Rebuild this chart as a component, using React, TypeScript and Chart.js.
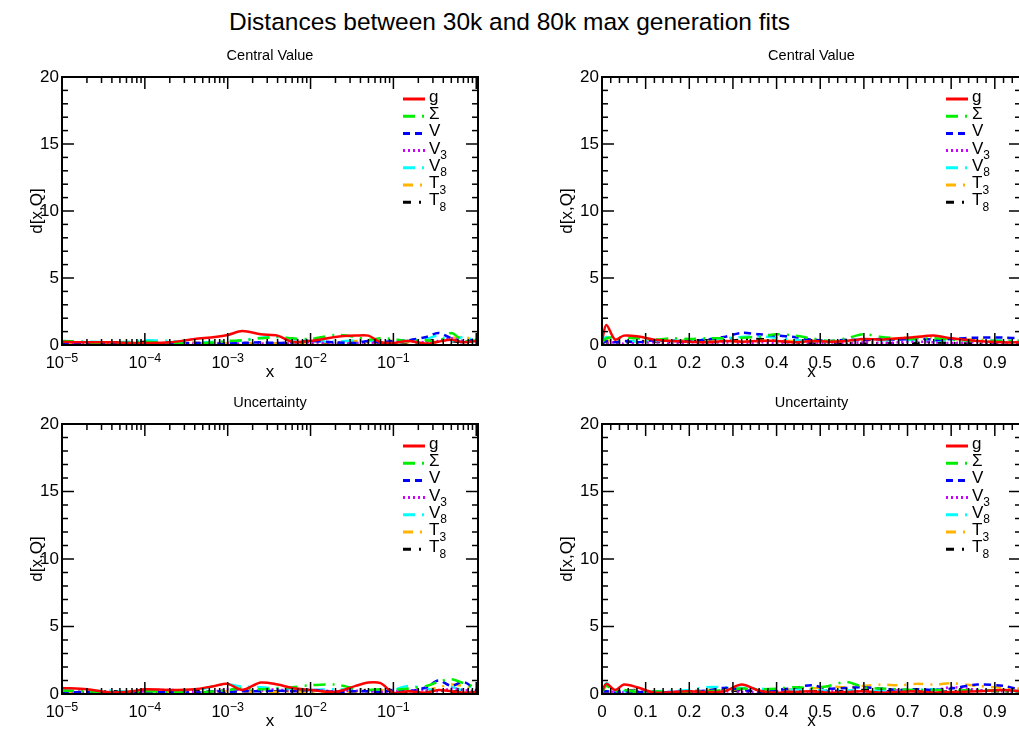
import React, { useEffect, useRef } from 'react';
import { Chart, registerables } from 'chart.js';
Chart.register(...registerables);

const FONT = '"Liberation Sans", Arial, Helvetica, sans-serif';

const TITLE = 'Distances between 30k and 80k max generation fits';
const SUBTITLES = ['Central Value', 'Central Value', 'Uncertainty', 'Uncertainty'];
const Y_TITLE = 'd[x,Q]';
const X_TITLE = 'x';

const SERIES_MAIN = ['g', 'Σ', 'V', 'V', 'V', 'T', 'T'];
const SERIES_SUB = ['', '', '', '3', '8', '3', '8'];
const SERIES_COLORS = ['#ff0000', '#00ee00', '#0000ff', '#cc00ff', '#00ffff', '#ffb400', '#000000'];
const SERIES_DASH = [[], [12, 7, 2, 7], [7, 5], [2, 3], [12, 7, 2, 7], [10, 7, 2, 7], [8, 8, 2, 8]];

const Y_TICK_LABELS = [0, 5, 10, 15, 20];
const LOG_DECADES = [-5, -4, -3, -2, -1];

const LOG_X = [1e-5, 2e-5, 4e-5, 7e-5, 1e-4, 2e-4, 4e-4, 7e-4, 1e-3, 1.5e-3, 2.5e-3, 4e-3, 6e-3, 1e-2, 2e-2, 3.5e-2, 5e-2, 7e-2, 0.1, 0.15, 0.25, 0.35, 0.5, 0.7, 1.0];
const LIN_X = [0, 0.01, 0.03, 0.05, 0.08, 0.12, 0.16, 0.2, 0.24, 0.28, 0.32, 0.36, 0.4, 0.44, 0.48, 0.52, 0.56, 0.6, 0.64, 0.68, 0.72, 0.76, 0.8, 0.86, 0.92, 0.96];

// Central value, log x
const CV_LOG_G = [0.25, 0.2, 0.2, 0.15, 0.15, 0.2, 0.45, 0.6, 0.75, 1.05, 0.8, 0.7, 0.25, 0.3, 0.6, 0.7, 0.7, 0.2, 0.15, 0.3, 0.1, 0.25, 0.4, 0.2, 0.3];
const CV_LOG_S = [0.3, 0.2, 0.1, 0.2, 0.25, 0.15, 0.1, 0.2, 0.3, 0.35, 0.5, 0.6, 0.5, 0.45, 0.75, 0.6, 0.4, 0.5, 0.45, 0.3, 0.35, 0.2, 0.9, 0.3, 0.4];
const CV_LOG_V = [0.1, 0.15, 0.1, 0.1, 0.15, 0.1, 0.15, 0.1, 0.1, 0.15, 0.2, 0.15, 0.2, 0.3, 0.2, 0.15, 0.3, 0.2, 0.3, 0.35, 0.6, 0.9, 0.5, 0.2, 0.5];
const CV_LOG_V3 = [0.15, 0.1, 0.1, 0.15, 0.1, 0.15, 0.1, 0.1, 0.15, 0.1, 0.1, 0.15, 0.1, 0.2, 0.1, 0.15, 0.2, 0.1, 0.2, 0.3, 0.2, 0.3, 0.5, 0.3, 0.2];
const CV_LOG_V8 = [0.3, 0.25, 0.2, 0.25, 0.35, 0.3, 0.15, 0.25, 0.2, 0.35, 0.55, 0.6, 0.45, 0.3, 0.25, 0.35, 0.3, 0.3, 0.2, 0.3, 0.45, 0.7, 0.3, 0.6, 0.3];
const CV_LOG_T3 = [0.1, 0.15, 0.1, 0.2, 0.1, 0.1, 0.15, 0.1, 0.15, 0.1, 0.15, 0.1, 0.15, 0.2, 0.2, 0.3, 0.2, 0.15, 0.3, 0.2, 0.35, 0.2, 0.5, 0.6, 0.3];
const CV_LOG_T8 = [0.2, 0.15, 0.2, 0.15, 0.25, 0.2, 0.15, 0.15, 0.1, 0.15, 0.1, 0.1, 0.15, 0.1, 0.15, 0.1, 0.2, 0.1, 0.25, 0.15, 0.3, 0.4, 0.3, 0.2, 0.25];

// Central value, linear x
const CV_LIN_G = [0.3, 1.5, 0.4, 0.7, 0.65, 0.4, 0.3, 0.25, 0.2, 0.3, 0.25, 0.3, 0.3, 0.2, 0.3, 0.25, 0.3, 0.45, 0.4, 0.5, 0.6, 0.7, 0.5, 0.3, 0.2, 0.2];
const CV_LIN_S = [0.2, 0.5, 0.6, 0.55, 0.5, 0.4, 0.5, 0.45, 0.5, 0.5, 0.55, 0.6, 0.8, 0.7, 0.5, 0.3, 0.5, 0.8, 0.6, 0.5, 0.45, 0.5, 0.4, 0.3, 0.3, 0.3];
const CV_LIN_V = [0.1, 0.3, 0.2, 0.3, 0.2, 0.35, 0.3, 0.3, 0.4, 0.6, 0.9, 0.8, 0.7, 0.6, 0.4, 0.3, 0.4, 0.35, 0.45, 0.4, 0.5, 0.4, 0.45, 0.55, 0.55, 0.5];
const CV_LIN_V3 = [0.1, 0.15, 0.2, 0.1, 0.15, 0.2, 0.1, 0.2, 0.15, 0.2, 0.1, 0.2, 0.15, 0.2, 0.1, 0.2, 0.1, 0.2, 0.15, 0.2, 0.25, 0.2, 0.15, 0.2, 0.1, 0.15];
const CV_LIN_V8 = [0.2, 0.6, 0.3, 0.3, 0.25, 0.3, 0.35, 0.3, 0.45, 0.5, 0.6, 0.65, 0.55, 0.4, 0.3, 0.25, 0.3, 0.45, 0.35, 0.4, 0.35, 0.3, 0.4, 0.3, 0.35, 0.3];
const CV_LIN_T3 = [0.1, 0.3, 0.35, 0.3, 0.25, 0.3, 0.3, 0.35, 0.3, 0.35, 0.25, 0.3, 0.35, 0.3, 0.3, 0.25, 0.3, 0.35, 0.4, 0.5, 0.6, 0.55, 0.45, 0.4, 0.35, 0.3];
const CV_LIN_T8 = [0.5, 0.2, 0.15, 0.2, 0.3, 0.25, 0.2, 0.3, 0.35, 0.3, 0.4, 0.45, 0.3, 0.2, 0.15, 0.2, 0.15, 0.1, 0.15, 0.1, 0.15, 0.2, 0.15, 0.1, 0.15, 0.1];

// Uncertainty, log x
const UN_LOG_G = [0.45, 0.35, 0.1, 0.2, 0.35, 0.3, 0.35, 0.6, 0.75, 0.3, 0.85, 0.7, 0.45, 0.3, 0.15, 0.6, 0.85, 0.8, 0.1, 0.2, 0.1, 0.3, 0.2, 0.1, 0.15];
const UN_LOG_S = [0.25, 0.2, 0.15, 0.1, 0.2, 0.15, 0.1, 0.2, 0.3, 0.4, 0.35, 0.45, 0.5, 0.65, 0.7, 0.4, 0.3, 0.35, 0.3, 0.4, 0.6, 0.9, 1.1, 0.8, 0.5];
const UN_LOG_V = [0.1, 0.15, 0.1, 0.1, 0.1, 0.15, 0.1, 0.2, 0.15, 0.2, 0.2, 0.25, 0.2, 0.3, 0.15, 0.2, 0.2, 0.15, 0.3, 0.2, 0.5, 1.0, 0.6, 0.9, 0.3];
const UN_LOG_V3 = [0.2, 0.1, 0.15, 0.1, 0.2, 0.3, 0.15, 0.2, 0.35, 0.3, 0.25, 0.35, 0.2, 0.3, 0.2, 0.25, 0.2, 0.15, 0.2, 0.25, 0.3, 0.2, 0.4, 0.3, 0.2];
const UN_LOG_V8 = [0.3, 0.2, 0.25, 0.15, 0.3, 0.2, 0.25, 0.6, 0.7, 0.55, 0.5, 0.4, 0.35, 0.3, 0.35, 0.3, 0.3, 0.2, 0.3, 0.6, 0.4, 0.2, 0.5, 0.3, 0.8];
const UN_LOG_T3 = [0.1, 0.15, 0.1, 0.2, 0.1, 0.15, 0.1, 0.15, 0.2, 0.15, 0.2, 0.15, 0.2, 0.15, 0.2, 0.15, 0.2, 0.3, 0.2, 0.25, 0.3, 0.5, 0.7, 0.6, 0.4];
const UN_LOG_T8 = [0.2, 0.15, 0.2, 0.15, 0.2, 0.15, 0.2, 0.2, 0.15, 0.2, 0.15, 0.2, 0.3, 0.2, 0.15, 0.2, 0.3, 0.15, 0.2, 0.15, 0.2, 0.3, 0.15, 0.3, 0.2];

// Uncertainty, linear x
const UN_LIN_G = [0.2, 0.75, 0.3, 0.7, 0.5, 0.1, 0.15, 0.2, 0.15, 0.2, 0.7, 0.25, 0.1, 0.15, 0.2, 0.1, 0.15, 0.2, 0.1, 0.15, 0.2, 0.1, 0.15, 0.2, 0.3, 0.2];
const UN_LIN_S = [0.1, 0.6, 0.2, 0.3, 0.15, 0.2, 0.1, 0.15, 0.2, 0.3, 0.4, 0.35, 0.4, 0.5, 0.45, 0.6, 0.9, 0.5, 0.4, 0.35, 0.3, 0.3, 0.25, 0.3, 0.2, 0.2];
const UN_LIN_V = [0.15, 0.2, 0.1, 0.2, 0.15, 0.1, 0.15, 0.2, 0.25, 0.45, 0.3, 0.2, 0.3, 0.45, 0.65, 0.4, 0.45, 0.5, 0.4, 0.3, 0.35, 0.3, 0.4, 0.7, 0.6, 0.3];
const UN_LIN_V3 = [0.1, 0.2, 0.15, 0.1, 0.2, 0.1, 0.15, 0.1, 0.15, 0.2, 0.15, 0.1, 0.2, 0.15, 0.1, 0.2, 0.15, 0.2, 0.1, 0.3, 0.2, 0.25, 0.5, 0.3, 0.2, 0.15];
const UN_LIN_V8 = [0.2, 0.8, 0.3, 0.2, 0.25, 0.2, 0.25, 0.3, 0.5, 0.5, 0.45, 0.4, 0.3, 0.35, 0.3, 0.25, 0.3, 0.2, 0.25, 0.2, 0.3, 0.35, 0.2, 0.25, 0.3, 0.2];
const UN_LIN_T3 = [0.1, 0.2, 0.15, 0.2, 0.25, 0.2, 0.15, 0.2, 0.3, 0.35, 0.3, 0.25, 0.3, 0.35, 0.4, 0.55, 0.5, 0.6, 0.7, 0.65, 0.75, 0.7, 0.8, 0.6, 0.45, 0.4];
const UN_LIN_T8 = [0.3, 0.15, 0.2, 0.25, 0.3, 0.2, 0.15, 0.2, 0.25, 0.3, 0.2, 0.15, 0.2, 0.3, 0.2, 0.25, 0.2, 0.3, 0.2, 0.25, 0.2, 0.15, 0.2, 0.25, 0.2, 0.15];

type Panel = {
  log: boolean;
  xs: number[];
  series: number[][];
  subtitle: string;
  left: number;
  top: number;
  width: number;
  height: number;
  padRight: number;
  xAxisH: number;
  yTitleOffset: number;
};

const PANELS: Panel[] = [
  { log: true, xs: LOG_X, series: [CV_LOG_G, CV_LOG_S, CV_LOG_V, CV_LOG_V3, CV_LOG_V8, CV_LOG_T3, CV_LOG_T8], subtitle: SUBTITLES[0], left: 0, top: 40, width: 500, height: 345, padRight: 22, xAxisH: 40, yTitleOffset: 25 },
  { log: false, xs: LIN_X, series: [CV_LIN_G, CV_LIN_S, CV_LIN_V, CV_LIN_V3, CV_LIN_V8, CV_LIN_T3, CV_LIN_T8], subtitle: SUBTITLES[1], left: 540, top: 40, width: 490, height: 345, padRight: 9, xAxisH: 40, yTitleOffset: 35 },
  { log: true, xs: LOG_X, series: [UN_LOG_G, UN_LOG_S, UN_LOG_V, UN_LOG_V3, UN_LOG_V8, UN_LOG_T3, UN_LOG_T8], subtitle: SUBTITLES[2], left: 0, top: 387, width: 500, height: 345, padRight: 22, xAxisH: 38, yTitleOffset: 25 },
  { log: false, xs: LIN_X, series: [UN_LIN_G, UN_LIN_S, UN_LIN_V, UN_LIN_V3, UN_LIN_V8, UN_LIN_T3, UN_LIN_T8], subtitle: SUBTITLES[3], left: 540, top: 387, width: 490, height: 345, padRight: 9, xAxisH: 38, yTitleOffset: 35 },
];

function yTickMarks() {
  const out: { v: number; len: number }[] = [];
  for (let v = 0; v <= 20; v++) out.push({ v, len: v % 5 === 0 ? 12 : 6 });
  return out;
}
function logTickMarks() {
  const out: { v: number; len: number }[] = [];
  for (let e = -5; e <= 0; e++) {
    for (let k = 1; k <= 9; k++) {
      const v = k * Math.pow(10, e);
      if (v > 1.0001) break;
      out.push({ v, len: k === 1 ? 12 : 6 });
    }
  }
  return out;
}
function linTickMarks() {
  const out: { v: number; len: number }[] = [];
  for (let i = 0; i <= 48; i++) out.push({ v: i * 0.02, len: i % 5 === 0 ? 12 : 6 });
  return out;
}

const framePlugin = {
  id: 'frame',
  afterDatasetsDraw(chart: any, _args: any, opts: any) {
    const { ctx, chartArea: a } = chart;
    const xs = chart.scales.x;
    const ys = chart.scales.y;
    ctx.save();
    ctx.strokeStyle = '#000';
    ctx.lineWidth = 1.5;
    const seg = (x0: number, y0: number, x1: number, y1: number) => {
      ctx.beginPath();
      ctx.moveTo(x0, y0);
      ctx.lineTo(x1, y1);
      ctx.stroke();
    };
    for (const t of opts.yTicks) {
      const p = ys.getPixelForValue(t.v);
      seg(a.left, p, a.left + t.len, p);
      seg(a.right, p, a.right - t.len, p);
    }
    for (const t of opts.xTicks) {
      const p = xs.getPixelForValue(t.v);
      if (p < a.left - 0.5 || p > a.right + 0.5) continue;
      seg(p, a.bottom, p, a.bottom - t.len);
      seg(p, a.top, p, a.top + t.len);
    }
    ctx.lineWidth = 2;
    ctx.strokeRect(a.left, a.top, a.right - a.left, a.bottom - a.top);

    ctx.fillStyle = '#000';
    // log axis labels with superscript exponents
    if (opts.log) {
      ctx.textBaseline = 'alphabetic';
      ctx.textAlign = 'left';
      for (const e of LOG_DECADES) {
        const p = xs.getPixelForValue(Math.pow(10, e));
        const base = '10';
        const exp = (e < 0 ? '−' : '') + String(Math.abs(e));
        ctx.font = `16.5px ${FONT}`;
        const wb = ctx.measureText(base).width;
        ctx.font = `12.5px ${FONT}`;
        const we = ctx.measureText(exp).width;
        const x0 = p - (wb + we) / 2;
        ctx.font = `16.5px ${FONT}`;
        ctx.fillText(base, x0, a.bottom + 23);
        ctx.font = `12.5px ${FONT}`;
        ctx.fillText(exp, x0 + wb, a.bottom + 17);
      }
    }

    ctx.textAlign = 'center';
    ctx.textBaseline = 'middle';
    ctx.font = `14.5px ${FONT}`;
    ctx.fillText(opts.subtitle, (a.left + a.right) / 2, a.top - 21);
    ctx.font = `17px ${FONT}`;
    ctx.fillText(X_TITLE, (a.left + a.right) / 2, a.bottom + 27);
    ctx.save();
    ctx.translate(a.left - opts.yTitleOffset, (a.top + a.bottom) / 2);
    ctx.rotate(-Math.PI / 2);
    ctx.fillText(Y_TITLE, 0, 0);
    ctx.restore();

    // legend
    const lx0 = a.right - 75;
    const lx1 = a.right - 53;
    chart.data.datasets.forEach((ds: any, i: number) => {
      const ly = a.top + 22 + i * 17.2;
      ctx.strokeStyle = ds.borderColor;
      ctx.lineWidth = 3;
      ctx.setLineDash(ds.borderDash || []);
      seg(lx0, ly, lx1, ly);
      ctx.setLineDash([]);
      ctx.fillStyle = '#000';
      ctx.textAlign = 'left';
      ctx.textBaseline = 'alphabetic';
      ctx.font = `17px ${FONT}`;
      ctx.fillText(SERIES_MAIN[i], lx1 + 4, ly + 3);
      if (SERIES_SUB[i]) {
        const w = ctx.measureText(SERIES_MAIN[i]).width;
        ctx.font = `12px ${FONT}`;
        ctx.fillText(SERIES_SUB[i], lx1 + 4 + w, ly + 8.5);
      }
    });
    ctx.restore();
  },
};

function PanelChart({ p }: { p: Panel }) {
  const ref = useRef<HTMLCanvasElement>(null);
  useEffect(() => {
    if (!ref.current) return;
    const datasets = p.series.map((vals, i) => ({
      label: SERIES_MAIN[i] + SERIES_SUB[i],
      data: p.xs.map((x, j) => ({ x, y: vals[j] })),
      borderColor: SERIES_COLORS[i],
      backgroundColor: SERIES_COLORS[i],
      borderDash: SERIES_DASH[i],
      borderWidth: 2.5,
      pointRadius: 0,
      fill: false,
      tension: 0.3,
    }));
    const xScale: any = p.log
      ? {
          type: 'logarithmic',
          min: 1e-5,
          max: 1.05,
          grid: { display: false, drawTicks: false },
          border: { display: false },
          ticks: {
            autoSkip: false,
            maxRotation: 0,
            padding: 8,
            color: '#000',
            font: { family: FONT, size: 16 },
            callback: () => '',
          },
          afterFit: (s: any) => {
            s.height = p.xAxisH;
          },
        }
      : {
          type: 'linear',
          min: 0,
          max: 0.96,
          grid: { display: false, drawTicks: false },
          border: { display: false },
          ticks: {
            stepSize: 0.1,
            includeBounds: false,
            autoSkip: false,
            maxRotation: 0,
            padding: 8,
            color: '#000',
            font: { family: FONT, size: 17 },
            callback: (v: any) => (Number(v) === 0 ? '0' : Number(v).toFixed(1)),
          },
          afterFit: (s: any) => {
            s.height = p.xAxisH;
          },
        };
    const chart = new Chart(ref.current, {
      type: 'line',
      data: { datasets } as any,
      options: {
        responsive: false,
        animation: false,
        devicePixelRatio: 1,
        layout: { padding: { left: 0, top: 37, right: p.padRight, bottom: 0 } },
        plugins: {
          legend: { display: false },
          tooltip: { enabled: false },
          frame: {
            log: p.log,
            subtitle: p.subtitle,
            yTitleOffset: p.yTitleOffset,
            yTicks: yTickMarks(),
            xTicks: p.log ? logTickMarks() : linTickMarks(),
          },
        } as any,
        scales: {
          x: xScale,
          y: {
            type: 'linear',
            min: 0,
            max: 20,
            grid: { display: false, drawTicks: false },
            border: { display: false },
            ticks: {
              stepSize: 5,
              padding: 3,
              color: '#000',
              font: { family: FONT, size: 17 },
              callback: (v: any) => (Y_TICK_LABELS.includes(Number(v)) ? String(v) : ''),
            },
            afterFit: (s: any) => {
              s.width = 62;
            },
          } as any,
        },
      },
      plugins: [framePlugin],
    });
    return () => chart.destroy();
  }, [p]);
  return (
    <canvas
      ref={ref}
      width={p.width}
      height={p.height}
      style={{ position: 'absolute', left: p.left, top: p.top, width: p.width, height: p.height }}
    />
  );
}

export default function App() {
  return (
    <div
      style={{
        position: 'absolute',
        left: 0,
        top: 0,
        width: 1019,
        height: 731,
        overflow: 'hidden',
        background: '#fff',
      }}
    >
      <div
        style={{
          position: 'absolute',
          left: 0,
          top: 8,
          width: 1019,
          textAlign: 'center',
          fontFamily: FONT,
          fontSize: 24.5,
          lineHeight: '28px',
          color: '#000',
        }}
      >
        {TITLE}
      </div>
      {PANELS.map((p, i) => (
        <PanelChart key={i} p={p} />
      ))}
    </div>
  );
}
